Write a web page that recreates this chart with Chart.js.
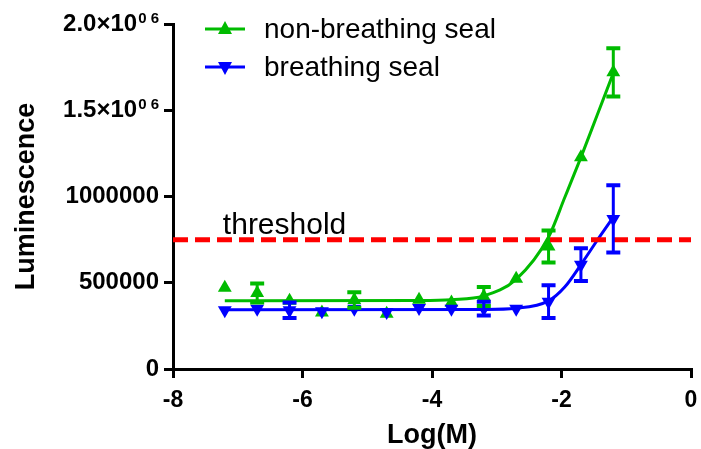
<!DOCTYPE html>
<html>
<head>
<meta charset="utf-8">
<script src="https://cdn.jsdelivr.net/npm/chart.js@4.4.1/dist/chart.umd.min.js"></script>
<style>
  html, body { margin: 0; padding: 0; background: #fff; }
  canvas { display: block; }
</style>
</head>
<body>
<canvas id="lumChart" width="701" height="449"></canvas>
<script>
// concentrations, log(M)
const logConc = [-7.2, -6.7, -6.2, -5.7, -5.2, -4.7, -4.2, -3.7, -3.2, -2.7, -2.2, -1.7, -1.2];

// mean luminescence and error (SD) per concentration
const nonBreathing = [471000, 440000, 395000, 327000, 400000, 320000, 401000, 386000, 420000, 523000, 710000, 1227000, 1720000];
const nonBreathingErr = [0, 55000, 0, 0, 45000, 0, 0, 0, 55000, 0, 93000, 0, 140000];
const breathing = [340000, 349000, 340000, 335000, 349000, 330000, 354000, 349000, 350000, 349000, 390000, 605000, 870000];
const breathingErr = [0, 0, 45000, 0, 0, 0, 0, 0, 40000, 0, 95000, 95000, 195000];

// fitted curves
const fitNonX = [-7.2, -4.2, -3.7, -3.2, -2.7, -2.2, -1.95, -1.7, -1.45, -1.2];
const fitNonY = [395000, 397000, 402000, 424000, 520000, 765000, 994000, 1227000, 1471000, 1715000];
const fitBreX = [-7.2, -3.2, -2.7, -2.2, -1.95, -1.7, -1.45, -1.2];
const fitBreY = [343000, 345000, 352000, 395000, 475000, 605000, 745000, 880000];

const threshold = 750000;
const seriesNames = ['non-breathing seal', 'breathing seal'];
// y tick labels: [main text, superscript]
const yTickLabels = {
    0: ['0', ''],
    500000: ['500000', ''],
    1000000: ['1000000', ''],
    1500000: ['1.5×10', '0 6'],
    2000000: ['2.0×10', '0 6']
};

const GREEN = '#00BB00';
const BLUE = '#0000FF';
const RED = '#FF0000';
const FONT = "'Liberation Sans', Arial, sans-serif";

const toPts = (xs, ys) => xs.map((x, i) => ({ x: x, y: ys[i] }));

// error bars drawn through the chart scales
const errorBars = {
    id: 'errorBars',
    afterDatasetsDraw(chart) {
        const { ctx, scales: { x, y } } = chart;
        const sets = [[nonBreathing, nonBreathingErr, GREEN], [breathing, breathingErr, BLUE]];
        ctx.save();
        sets.forEach(([vals, errs, col]) => {
            vals.forEach((v, i) => {
                if (!errs[i]) return;
                const px = x.getPixelForValue(logConc[i]);
                const top = y.getPixelForValue(v + errs[i]);
                const bot = y.getPixelForValue(v - errs[i]);
                ctx.strokeStyle = col;
                ctx.lineWidth = 3;
                ctx.beginPath();
                ctx.moveTo(px, top);
                ctx.lineTo(px, bot);
                ctx.stroke();
                ctx.lineWidth = 4;
                ctx.beginPath();
                ctx.moveTo(px - 7, top); ctx.lineTo(px + 7, top);
                ctx.moveTo(px - 7, bot); ctx.lineTo(px + 7, bot);
                ctx.stroke();
            });
        });
        ctx.restore();
    }
};

// legend, threshold label and the exponent-style y tick labels
const annotations = {
    id: 'annotations',
    afterDraw(chart) {
        const { ctx, scales: { x, y } } = chart;
        ctx.save();
        ctx.fillStyle = '#000';
        ctx.textBaseline = 'alphabetic';
        ctx.font = '30px ' + FONT;
        ctx.fillText('threshold', x.getPixelForValue(-7.23), y.getPixelForValue(threshold) - 6);

        ctx.font = '28px ' + FONT;
        const items = [[GREEN, 0, 29], [BLUE, 180, 67]];
        items.forEach(([col, rot, ly], i) => {
            ctx.strokeStyle = col;
            ctx.fillStyle = col;
            ctx.lineWidth = 3;
            ctx.beginPath();
            ctx.moveTo(205, ly); ctx.lineTo(245, ly);
            ctx.stroke();
            ctx.beginPath();
            const d = rot ? -1 : 1;
            ctx.moveTo(225, ly - 8 * d);
            ctx.lineTo(232, ly + 5 * d);
            ctx.lineTo(218, ly + 5 * d);
            ctx.closePath();
            ctx.fill();
            ctx.fillStyle = '#000';
            ctx.fillText(seriesNames[i], 264, ly + 9);
        });

        // tick labels with superscript exponent
        ctx.fillStyle = '#000';
        ctx.textAlign = 'right';
        ctx.textBaseline = 'middle';
        y.ticks.forEach((t) => {
            const lab = yTickLabels[t.value];
            if (!lab || !lab[1]) return;
            const py = y.getPixelForValue(t.value);
            const right = y.right - 14;
            ctx.font = 'bold 15px ' + FONT;
            const supW = ctx.measureText(lab[1]).width;
            ctx.fillText(lab[1], right, py - 5);
            ctx.font = 'bold 24px ' + FONT;
            ctx.fillText(lab[0], right - supW - 1, py);
        });
        ctx.restore();
    }
};

const ctx = document.getElementById('lumChart').getContext('2d');
const lumChart = new Chart(ctx, {
    type: 'scatter',
    data: {
        datasets: [
            {
                label: 'threshold',
                data: [{ x: -8, y: threshold }, { x: 0, y: threshold }],
                showLine: true,
                borderColor: RED,
                borderWidth: 5,
                borderDash: [15, 7],
                pointRadius: 0,
                order: 1
            },
            {
                label: seriesNames[0] + ' fit',
                data: toPts(fitNonX, fitNonY),
                showLine: true,
                borderColor: GREEN,
                borderWidth: 3,
                cubicInterpolationMode: 'monotone',
                pointRadius: 0,
                order: 4
            },
            {
                label: seriesNames[1] + ' fit',
                data: toPts(fitBreX, fitBreY),
                showLine: true,
                borderColor: BLUE,
                borderWidth: 3,
                cubicInterpolationMode: 'monotone',
                pointRadius: 0,
                order: 3
            },
            {
                label: seriesNames[0],
                data: toPts(logConc, nonBreathing),
                pointStyle: 'triangle',
                pointRadius: 8,
                backgroundColor: GREEN,
                borderColor: GREEN,
                borderWidth: 0,
                order: 5
            },
            {
                label: seriesNames[1],
                data: toPts(logConc, breathing),
                pointStyle: 'triangle',
                rotation: 180,
                pointRadius: 8,
                backgroundColor: BLUE,
                borderColor: BLUE,
                borderWidth: 0,
                order: 2
            }
        ]
    },
    options: {
        responsive: false,
        animation: false,
        layout: { padding: { top: 24, right: 10, left: 0, bottom: 0 } },
        plugins: {
            legend: { display: false },
            tooltip: { enabled: false }
        },
        scales: {
            x: {
                type: 'linear',
                min: -8,
                max: 0,
                afterFit(scale) {
                    scale.height = 80;
                    scale.paddingLeft = 0;
                    scale.paddingRight = 0;
                },
                ticks: {
                    stepSize: 2,
                    color: '#000',
                    padding: 9,
                    font: { family: FONT, size: 23, weight: 'bold' }
                },
                grid: { drawOnChartArea: false, color: '#000', lineWidth: 3, tickLength: 9 },
                border: { color: '#000', width: 3 },
                title: {
                    display: true,
                    text: 'Log(M)',
                    color: '#000',
                    padding: { top: 0, bottom: 0 },
                    font: { family: FONT, size: 27, weight: 'bold', lineHeight: 1 }
                }
            },
            y: {
                min: 0,
                max: 2000000,
                afterFit(scale) { scale.width = 173; },
                ticks: {
                    stepSize: 500000,
                    padding: 5,
                    font: { family: FONT, size: 24, weight: 'bold' },
                    // exponent labels are drawn by the annotations plugin
                    color: (c) => (yTickLabels[c.tick.value] && yTickLabels[c.tick.value][1]) ? 'rgba(0,0,0,0)' : '#000',
                    callback: (v) => yTickLabels[v] ? yTickLabels[v].join('') : ''
                },
                grid: { drawOnChartArea: false, color: '#000', lineWidth: 3, tickLength: 9 },
                border: { color: '#000', width: 3 },
                title: {
                    display: true,
                    text: 'Luminescence',
                    color: '#000',
                    padding: { top: 13, bottom: 0 },
                    font: { family: FONT, size: 27, weight: 'bold', lineHeight: 1 }
                }
            }
        }
    },
    plugins: [errorBars, annotations]
});
</script>
</body>
</html>
